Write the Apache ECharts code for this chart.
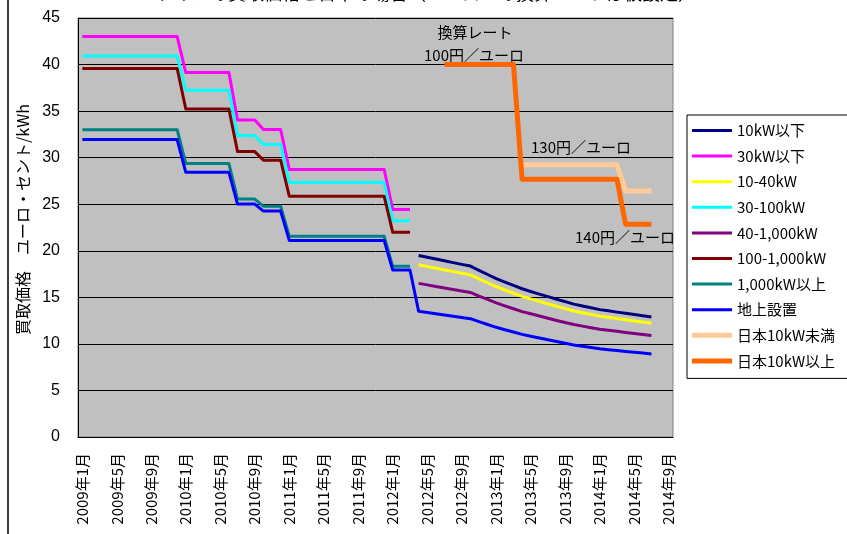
<!DOCTYPE html>
<html>
<head>
<meta charset="utf-8">
<script src="https://cdn.jsdelivr.net/npm/echarts@6/dist/echarts.min.js"></script>
<style>
  html, body { margin: 0; padding: 0; background: #fff; }
  #main { width: 847px; height: 534px; }
</style>
</head>
<body>
<div id="main"></div>
<script>
  // 月のカテゴリ 2009年1月〜2014年9月
  var months = [];
  for (var y = 2009; y <= 2014; y++) {
    for (var m = 1; m <= 12; m++) {
      months.push(y + '年' + m + '月');
      if (y === 2014 && m === 9) break;
    }
  }

  // 2012年3月までの段階的な買取価格（ユーロ・セント/kWh）
  var stepStarts = ['2009年1月', '2010年1月', '2010年7月', '2010年10月', '2011年1月', '2012年1月'];
  var stepEnds = ['2009年12月', '2010年6月', '2010年9月', '2010年12月', '2011年12月', '2012年3月'];
  var kw30Steps = [43.01, 39.14, 34.05, 33.03, 28.74, 24.43];
  var kw30to100Steps = [40.91, 37.23, 32.39, 31.42, 27.33, 23.23];
  var kw100to1000Steps = [39.58, 35.23, 30.65, 29.73, 25.86, 21.98];
  var kw1000Steps = [33.00, 29.37, 25.55, 24.79, 21.56, 18.33];
  var groundSteps = [31.94, 28.43, 25.02, 24.26, 21.11, 17.94];

  // 2012年4月〜2014年7月 月次
  var monthlyStart = '2012年4月';
  var kw10 = [19.50, 19.31, 19.11, 18.92, 18.73, 18.54, 18.36, 17.90, 17.45, 17.02, 16.64, 16.28, 15.92, 15.63,
              15.35, 15.07, 14.80, 14.54, 14.27, 14.07, 13.88, 13.68, 13.55, 13.41, 13.28, 13.15, 13.02, 12.88];
  var kw10to40 = [18.50, 18.32, 18.13, 17.95, 17.77, 17.59, 17.42, 16.98, 16.56, 16.14, 15.79, 15.44, 15.10, 14.83,
                  14.56, 14.30, 14.04, 13.79, 13.54, 13.35, 13.17, 12.98, 12.85, 12.72, 12.60, 12.47, 12.34, 12.22];
  var kw40to1000 = [16.50, 16.34, 16.17, 16.01, 15.85, 15.69, 15.53, 15.14, 14.77, 14.40, 14.08, 13.77, 13.47, 13.23,
                    12.99, 12.75, 12.52, 12.30, 12.08, 11.91, 11.74, 11.58, 11.46, 11.35, 11.23, 11.12, 11.01, 10.90];
  var groundMonthly = [13.50, 13.37, 13.23, 13.10, 12.97, 12.84, 12.71, 12.39, 12.08, 11.78, 11.52, 11.27, 11.02, 10.82,
                       10.63, 10.44, 10.25, 10.06, 9.88, 9.74, 9.61, 9.47, 9.38, 9.28, 9.19, 9.10, 9.01, 8.92];

  // 日本（円をユーロに換算）
  var jpOverStarts = ['2012年7月', '2013年4月', '2014年4月'];
  var jpOverEnds = ['2013年3月', '2014年3月', '2014年7月'];
  var jpOver10 = [40.00, 27.69, 22.86];
  var jpUnderStarts = ['2013年4月', '2014年4月'];
  var jpUnderEnds = ['2014年3月', '2014年7月'];
  var jpUnder10 = [29.23, 26.43];

  function steps(starts, ends, vals) {
    var out = [];
    for (var i = 0; i < vals.length; i++) {
      out.push([starts[i], vals[i]]);
      out.push([ends[i], vals[i]]);
    }
    return out;
  }
  function monthly(vals) {
    var i0 = months.indexOf(monthlyStart);
    return vals.map(function (v, i) { return [months[i0 + i], v]; });
  }

  function line(name, color, data, width) {
    return {
      name: name,
      type: 'line',
      data: data,
      symbol: 'none',
      lineStyle: { color: color, width: width || 3, join: 'round' },
      itemStyle: { color: color }
    };
  }

  // 凡例アイコン（細線・太線）
  var thinIcon = 'path://M0,0L40,0L40,3L0,3Z';
  var thickIcon = 'path://M0,0L40,0L40,5L0,5Z';

  var chart = echarts.init(document.getElementById('main'));
  var option = {
    animation: false,
    backgroundColor: '#ffffff',
    grid: {
      left: 78, right: 174, top: 18, bottom: 97,
      show: true,
      backgroundColor: '#C0C0C0',
      borderColor: '#808080',
      borderWidth: 1,
      outerBoundsMode: 'none'
    },
    legend: {
      orient: 'vertical',
      left: 687,
      top: 115,
      padding: [8, 40, 10, 5],
      backgroundColor: '#ffffff',
      borderColor: '#000000',
      borderWidth: 1,
      borderRadius: 0,
      itemWidth: 40,
      itemHeight: 15,
      itemGap: 10.6,
      symbolKeepAspect: true,
      data: [
        { name: '10kW以下', icon: thinIcon },
        { name: '30kW以下', icon: thinIcon },
        { name: '10-40kW', icon: thinIcon },
        { name: '30-100kW', icon: thinIcon },
        { name: '40-1,000kW', icon: thinIcon },
        { name: '100-1,000kW', icon: thinIcon },
        { name: '1,000kW以上', icon: thinIcon },
        { name: '地上設置', icon: thinIcon },
        { name: '日本10kW未満', icon: thickIcon },
        { name: '日本10kW以上', icon: thickIcon }
      ],
      textStyle: { fontSize: 15, color: '#000', fontFamily: 'Noto Sans CJK JP' }
    },
    xAxis: {
      type: 'category',
      data: months,
      boundaryGap: true,
      axisLine: { lineStyle: { color: '#000', width: 1 } },
      axisTick: { inside: true, length: 5, interval: 3, lineStyle: { color: '#000' } },
      axisLabel: {
        interval: 3,
        rotate: 90,
        margin: 16,
        fontSize: 15,
        color: '#000',
        fontFamily: 'Noto Sans CJK JP'
      },
      splitLine: { show: false }
    },
    yAxis: {
      type: 'value',
      min: 0,
      max: 45,
      interval: 5,
      name: '買取価格　ユーロ・セント/kWh',
      nameLocation: 'middle',
      nameGap: 46,
      nameRotate: 90,
      nameTextStyle: { fontSize: 16, color: '#000', fontFamily: 'Noto Sans CJK JP', padding: [0, 0, 0, 16] },
      axisLine: { show: true, lineStyle: { color: '#000', width: 1 } },
      axisTick: { show: true, inside: true, length: 4, lineStyle: { color: '#000' } },
      axisLabel: { fontSize: 16, color: '#000', margin: 18, fontFamily: 'Liberation Sans' },
      splitLine: { lineStyle: { color: '#000', width: 1 } }
    },
    series: [
      line('10kW以下', '#000080', monthly(kw10)),
      line('30kW以下', '#FF00FF', steps(stepStarts, stepEnds, kw30Steps)),
      line('10-40kW', '#FFFF00', monthly(kw10to40)),
      line('30-100kW', '#00FFFF', steps(stepStarts, stepEnds, kw30to100Steps)),
      line('40-1,000kW', '#800080', monthly(kw40to1000)),
      line('100-1,000kW', '#800000', steps(stepStarts, stepEnds, kw100to1000Steps)),
      line('1,000kW以上', '#008080', steps(stepStarts, stepEnds, kw1000Steps)),
      line('地上設置', '#0000FF', steps(stepStarts, stepEnds, groundSteps).concat(monthly(groundMonthly))),
      line('日本10kW未満', '#FFCC99', steps(jpUnderStarts, jpUnderEnds, jpUnder10), 5),
      line('日本10kW以上', '#FF6600', steps(jpOverStarts, jpOverEnds, jpOver10), 5)
    ],
    graphic: [
      { type: 'line', shape: { x1: 8, y1: 0, x2: 8, y2: 534 }, style: { stroke: '#000', lineWidth: 1.5 } },
      { type: 'text', x: 426, y: -7, style: { text: 'ドイツの買取価格と日本の場合（ユーロへの換算レートは仮設定）', fontSize: 18, fill: '#000', align: 'center', verticalAlign: 'middle', fontFamily: 'Noto Sans CJK JP' } },
      { type: 'text', x: 475, y: 32, style: { text: '換算レート', fontSize: 15, fill: '#000', align: 'center', verticalAlign: 'middle', fontFamily: 'Noto Sans CJK JP' } },
      { type: 'text', x: 474, y: 55, style: { text: '100円／ユーロ', fontSize: 15, fill: '#000', align: 'center', verticalAlign: 'middle', fontFamily: 'Noto Sans CJK JP' } },
      { type: 'text', x: 581, y: 147, style: { text: '130円／ユーロ', fontSize: 15, fill: '#000', align: 'center', verticalAlign: 'middle', fontFamily: 'Noto Sans CJK JP' } },
      { type: 'text', x: 625, y: 237, style: { text: '140円／ユーロ', fontSize: 15, fill: '#000', align: 'center', verticalAlign: 'middle', fontFamily: 'Noto Sans CJK JP' } }
    ]
  };
  chart.setOption(option);
</script>
</body>
</html>
